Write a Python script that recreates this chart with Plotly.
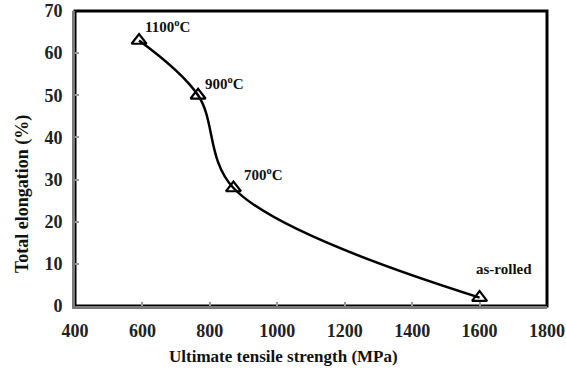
import plotly.graph_objects as go

uts = [590, 765, 870, 1600]
elong = [63, 50, 28, 2]
labels = ["1100<sup>o</sup>C", "900<sup>o</sup>C", "700<sup>o</sup>C", "as-rolled"]
x_ticks = [400, 600, 800, 1000, 1200, 1400, 1600, 1800]
y_ticks = [0, 10, 20, 30, 40, 50, 60, 70]
x_title = "Ultimate tensile strength (MPa)"
y_title = "Total elongation (%)"

FONT = "Liberation Serif"
W, H = 566, 372
ML, MR, MT, MB = 75, 19, 11, 66

fig = go.Figure()
fig.add_trace(go.Scatter(
    x=uts, y=elong, mode="lines+markers",
    line=dict(color="black", width=2.5, shape="spline", smoothing=1.0),
    marker=dict(symbol="triangle-up-open", size=13, color="black", line=dict(width=2.2, color="black")),
    showlegend=False, cliponaxis=False,
))

shifts = [("left", 4, 15), ("left", 5, 12), ("left", 9, 14), ("center", 24, 29)]
for xv, yv, t, (al, sx, sy) in zip(uts, elong, labels, shifts):
    fig.add_annotation(x=xv, y=yv, text="<b>" + t + "</b>", showarrow=False,
                       xanchor=al, yanchor="middle", xshift=sx, yshift=sy,
                       font=dict(family=FONT, size=15, color="#111111"))

# axis titles (slightly off-centre as in the reference)
pw, ph = W - ML - MR, H - MT - MB
fig.add_annotation(xref="paper", yref="paper", x=(283 - ML) / pw, y=-(356 - (H - MB)) / ph,
                   text="<b>" + x_title + "</b>", showarrow=False, xanchor="center", yanchor="middle",
                   font=dict(family=FONT, size=17, color="#111111"))
fig.add_annotation(xref="paper", yref="paper", x=-(ML - 22) / pw, y=((H - MB) - 194) / ph,
                   text="<b>" + y_title + "</b>", showarrow=False, textangle=-90,
                   xanchor="center", yanchor="middle",
                   font=dict(family=FONT, size=18, color="#111111"))

fig.add_shape(type="rect", xref="paper", yref="paper", x0=0, y0=0, x1=1, y1=1,
              line=dict(color="black", width=3), layer="below")

fig.update_xaxes(range=[400, 1800], tickvals=x_ticks, ticks="inside", ticklen=4,
                 tickcolor="#999999", tickwidth=1.5, showgrid=False, zeroline=False,
                 showline=True, linecolor="#7a7a7a", linewidth=3, automargin=False,
                 ticklabeloverflow="allow", ticklabelstandoff=6,
                 tickfont=dict(family=FONT, size=18, color="#222222", weight="bold"))
fig.update_yaxes(range=[0, 70], tickvals=y_ticks, ticks="inside", ticklen=4,
                 tickcolor="#999999", tickwidth=1.5, showgrid=False, zeroline=False,
                 showline=True, linecolor="#7a7a7a", linewidth=3, automargin=False,
                 ticklabeloverflow="allow", ticklabelstandoff=6,
                 tickfont=dict(family=FONT, size=18, color="#222222", weight="bold"))

fig.update_layout(width=W, height=H, margin=dict(l=ML, r=MR, t=MT, b=MB),
                  plot_bgcolor="white", paper_bgcolor="white")

fig.write_html("out.html", config={"displayModeBar": False},
               post_script="document.body.style.margin='0';")
